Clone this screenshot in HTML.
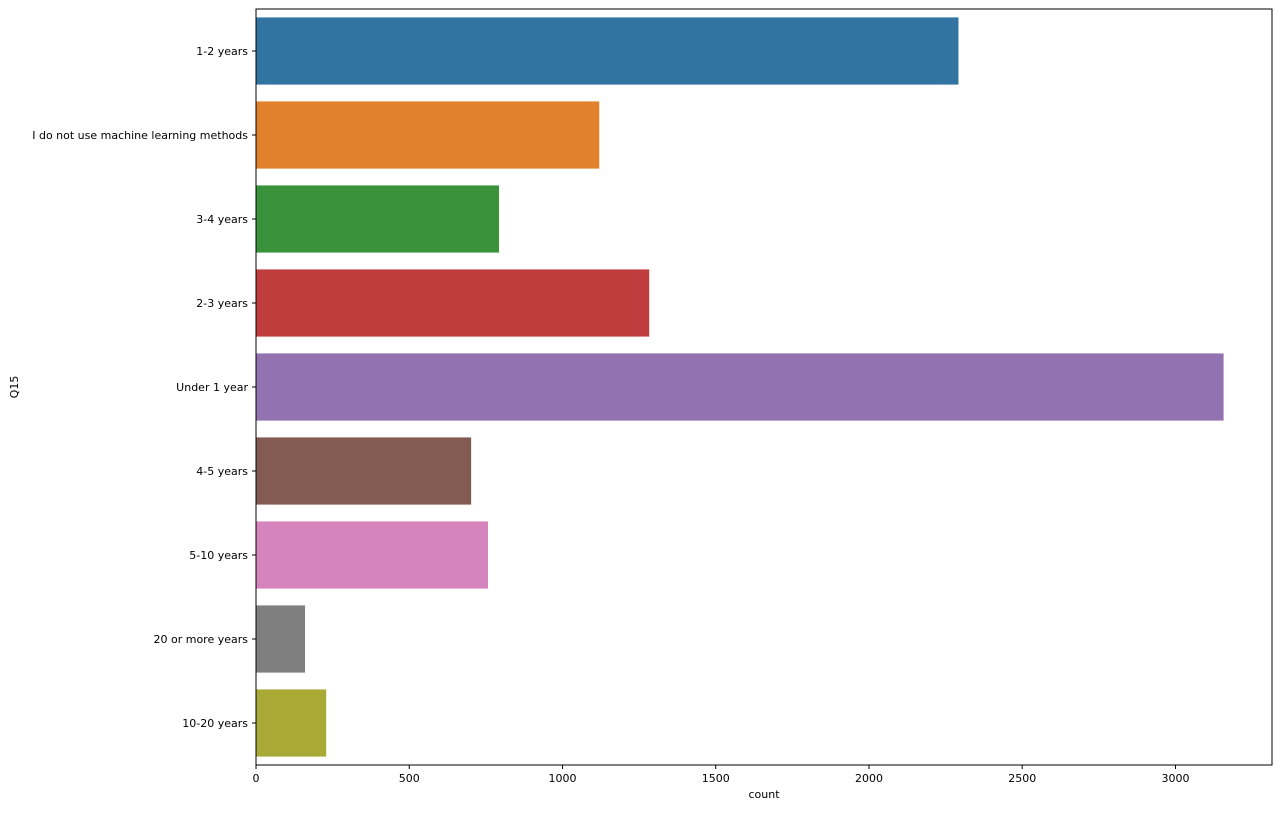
<!DOCTYPE html>
<html><head><meta charset="utf-8"><style>
body{margin:0;background:#fff;font-family:"Liberation Sans","DejaVu Sans",sans-serif;}
</style></head><body>
<svg id="chart" width="1280" height="809" xmlns="http://www.w3.org/2000/svg" font-family="DejaVu Sans, Liberation Sans, sans-serif"></svg>
<script>
const categories=["1-2 years","I do not use machine learning methods","3-4 years","2-3 years","Under 1 year","4-5 years","5-10 years","20 or more years","10-20 years"];
const counts=[2292,1120,793,1283,3157,702,757,160,229];
const colors=["#3274a1","#e1812c","#3a923a","#c03d3e","#9372b2","#845b53","#d684bd","#7f7f7f","#a9aa35"];
const xTicks=[0,500,1000,1500,2000,2500,3000];
const L=256,T=9,R=1272,B=765,XMAX=3315;
const svg=document.getElementById('chart');
const NS='http://www.w3.org/2000/svg';
function x(v){return L+(R-L)*v/XMAX;}
const band=(B-T)/categories.length;
function yc(i){return T+band*(i+0.5);}
function mk(t,a){const e=document.createElementNS(NS,t);for(const k in a)e.setAttribute(k,a[k]);svg.appendChild(e);return e;}
categories.forEach((c,i)=>{
 const r=mk('rect',{x:x(0),y:yc(i)-band*0.4,width:x(counts[i])-x(0),height:band*0.8,fill:colors[i]});
 
 
 mk('line',{x1:L-4,x2:L,y1:yc(i),y2:yc(i),stroke:'#000','stroke-width':1});
 const t=mk('text',{x:L-8,y:yc(i)+4,'text-anchor':'end','font-size':11});
 t.textContent=c;
 
 
});
xTicks.forEach(v=>{
 mk('line',{x1:x(v),x2:x(v),y1:B,y2:B+4,stroke:'#000','stroke-width':1});
 const t=mk('text',{x:x(v),y:B+17,'text-anchor':'middle','font-size':11});
 t.textContent=v;
 
 
});
const fr=mk('rect',{x:L,y:T,width:R-L,height:B-T,fill:'none',stroke:'#000','stroke-width':1});


const xt=mk('text',{x:(L+R)/2,y:B+33,'text-anchor':'middle','font-size':11});
xt.textContent='count';


const yt=mk('text',{x:18,y:(T+B)/2,'text-anchor':'middle','font-size':11,transform:`rotate(-90 18 ${(T+B)/2})`});
yt.textContent='Q15';


</script>
</body></html>
